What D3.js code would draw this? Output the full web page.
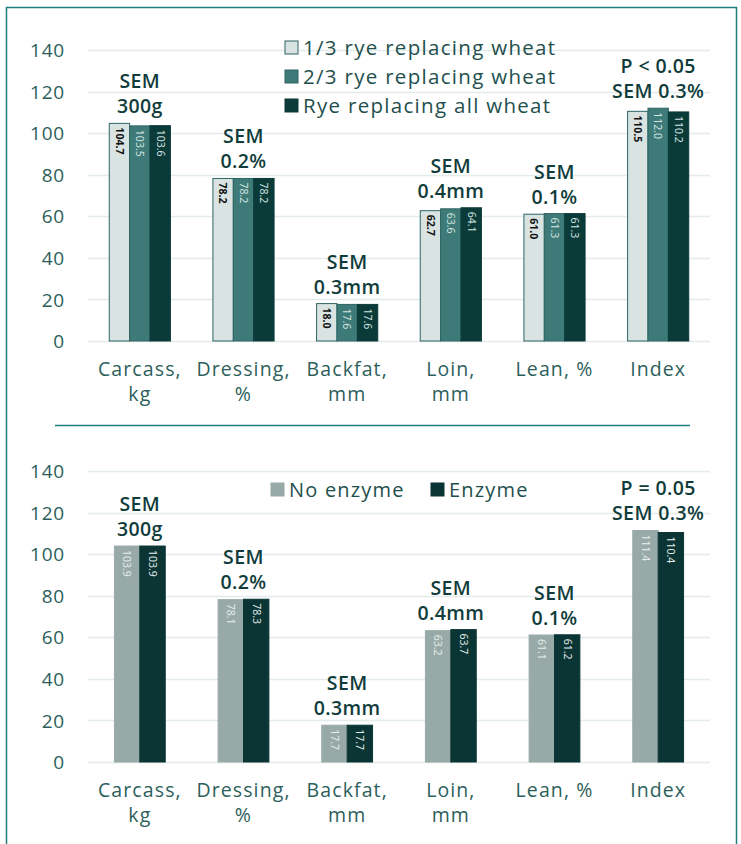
<!DOCTYPE html>
<html>
<head>
<meta charset="utf-8">
<script src="https://cdn.jsdelivr.net/npm/d3@7"></script>
<style>
body { margin: 0; background: #fff; }
svg text { font-family: "Open Sans", "Noto Sans", sans-serif; }
</style>
</head>
<body>
<div id="chart"></div>
<script>
// categories & tick labels
var categories = ["Carcass, kg", "Dressing, %", "Backfat, mm", "Loin, mm", "Lean, %", "Index"];
var catLines = [["Carcass,", "kg"], ["Dressing,", "%"], ["Backfat,", "mm"], ["Loin,", "mm"], ["Lean, %"], ["Index"]];
var yTicks = [0, 20, 40, 60, 80, 100, 120, 140];

// top chart: rye
var ryeSeries = ["1/3 rye replacing wheat", "2/3 rye replacing wheat", "Rye replacing all wheat"];
var rye13 = [104.7, 78.2, 18.0, 62.7, 61.0, 110.5];
var rye23 = [103.5, 78.2, 17.6, 63.6, 61.3, 112.0];
var ryeAll = [103.6, 78.2, 17.6, 64.1, 61.3, 110.2];
var ryeNotes = [["SEM", "300g"], ["SEM", "0.2%"], ["SEM", "0.3mm"], ["SEM", "0.4mm"], ["SEM", "0.1%"], ["P < 0.05", "SEM 0.3%"]];

// bottom chart: enzyme
var enzSeries = ["No enzyme", "Enzyme"];
var noEnzyme = [103.9, 78.1, 17.7, 63.2, 61.1, 111.4];
var enzyme = [103.9, 78.3, 17.7, 63.7, 61.2, 110.4];
var enzNotes = [["SEM", "300g"], ["SEM", "0.2%"], ["SEM", "0.3mm"], ["SEM", "0.4mm"], ["SEM", "0.1%"], ["P = 0.05", "SEM 0.3%"]];

var W = 741, H = 844;
var svg = d3.select("#chart").append("svg").attr("width", W).attr("height", H);

// frame
svg.append("path")
  .attr("d", "M6.5," + H + " L6.5,7.5 L736.5,7.5 L736.5," + H)
  .attr("fill", "none").attr("stroke", "#1f7f7e").attr("stroke-width", 1.5);
svg.append("line").attr("x1", 55).attr("x2", 690).attr("y1", 425.5).attr("y2", 425.5)
  .attr("stroke", "#1f7f7e").attr("stroke-width", 1.5);

function drawChart(cfg) {
  var g = svg.append("g");
  var y = d3.scaleLinear().domain([0, 140]).range([cfg.y0, cfg.y140]);
  var x = d3.scaleBand().domain(categories).range([88, 710]).paddingInner(cfg.pad).paddingOuter(cfg.pad / 2);
  var x1 = d3.scaleBand().domain(d3.range(cfg.series.length)).range([0, x.bandwidth()]);

  // gridlines
  g.append("g").selectAll("line").data(yTicks).enter().append("line")
    .attr("x1", 88).attr("x2", 710)
    .attr("y1", function (d) { return Math.round(y(d)) + 0.5; })
    .attr("y2", function (d) { return Math.round(y(d)) + 0.5; })
    .attr("stroke", "#e3ebeb").attr("stroke-width", 1.5);

  // y axis labels
  var yAxis = d3.axisLeft(y).tickValues(yTicks).tickSize(0).tickPadding(0);
  var ya = g.append("g").attr("transform", "translate(65,0)").call(yAxis);
  ya.select(".domain").remove();
  ya.selectAll("text").attr("font-size", 19).attr("fill", "#2b5e5b")
    .attr("font-family", "Open Sans, sans-serif").attr("letter-spacing", 0.8).attr("dy", "0.35em");

  // bars
  var groups = g.selectAll(".grp").data(categories).enter().append("g")
    .attr("transform", function (d) { return "translate(" + x(d) + ",0)"; });
  cfg.values.forEach(function (vals, s) {
    groups.append("rect")
      .attr("x", x1(s)).attr("width", x1.bandwidth())
      .attr("y", function (d, i) { return y(vals[i]); })
      .attr("height", function (d, i) { return y(0) - y(vals[i]); })
      .attr("fill", cfg.colors[s])
      .attr("stroke", cfg.strokes[s]).attr("stroke-width", 1);
    groups.append("text")
      .attr("transform", function (d, i) {
        return "translate(" + (x1(s) + x1.bandwidth() / 2) + "," + (y(vals[i]) + 4) + ") rotate(90)";
      })
      .attr("dy", "0.35em")
      .attr("font-size", 10.5)
      .attr("font-family", "Liberation Sans Narrow, Roboto, sans-serif")
      .attr("font-weight", cfg.labelBold[s] ? "bold" : "normal")
      .attr("fill", cfg.labelColors[s])
      .text(function (d, i) { return vals[i].toFixed(1); });
  });

  // SEM notes
  groups.each(function (d, i) {
    var top = d3.max(cfg.values, function (v) { return v[i]; });
    var base = y(top) - cfg.noteGap;
    var lines = cfg.notes[i];
    d3.select(this).selectAll(".note").data(lines).enter().append("text")
      .attr("x", x.bandwidth() / 2)
      .attr("y", function (t, k) { return base - (lines.length - 1 - k) * 25; })
      .attr("text-anchor", "middle")
      .attr("font-size", 19.5).attr("font-weight", 600).attr("fill", "#103c3b")
      .attr("letter-spacing", 0.4)
      .text(function (t) { return t; });
  });

  // category labels
  groups.each(function (d, i) {
    d3.select(this).selectAll(".cl").data(catLines[i]).enter().append("text")
      .attr("x", x.bandwidth() / 2)
      .attr("y", function (t, k) { return cfg.y0 + 35 + k * 25; })
      .attr("text-anchor", "middle")
      .attr("font-size", 19.5).attr("fill", "#2d5f5c")
      .attr("letter-spacing", 1.1)
      .text(function (t) { return t; });
  });

  // legend
  cfg.legend.forEach(function (L, s) {
    g.append("rect").attr("x", L.x).attr("y", L.y - 7).attr("width", 13).attr("height", 13)
      .attr("fill", cfg.colors[s]).attr("stroke", cfg.strokes[s]);
    g.append("text").attr("x", L.x + 18).attr("y", L.y).attr("dy", "0.35em")
      .attr("font-size", cfg.legendSize).attr("fill", "#1e4f4d")
      .attr("letter-spacing", cfg.legendSpacing)
      .text(cfg.series[s]);
  });
}

drawChart({
  y0: 341, y140: 50, pad: 0.41,
  series: ryeSeries, values: [rye13, rye23, ryeAll],
  colors: ["#d8e3e2", "#3e7a78", "#0b3b39"],
  strokes: ["#2f6563", "#2f6563", "#0b3b39"],
  labelColors: ["#111", "#d6e6e4", "#d6e6e4"],
  labelBold: [true, false, false],
  notes: ryeNotes, noteGap: 10,
  legend: [{ x: 285, y: 48 }, { x: 285, y: 77 }, { x: 285, y: 106 }],
  legendSize: 20.5, legendSpacing: 1.3
});

drawChart({
  y0: 762, y140: 471, pad: 0.51,
  series: enzSeries, values: [noEnzyme, enzyme],
  colors: ["#98aaa8", "#0b3534"],
  strokes: ["#98aaa8", "#0b3534"],
  labelColors: ["#e6eeee", "#e6eeee"],
  labelBold: [false, false],
  notes: enzNotes, noteGap: 10,
  legend: [{ x: 271, y: 490 }, { x: 431, y: 490 }],
  legendSize: 20, legendSpacing: 1.2
});
</script>
</body>
</html>
